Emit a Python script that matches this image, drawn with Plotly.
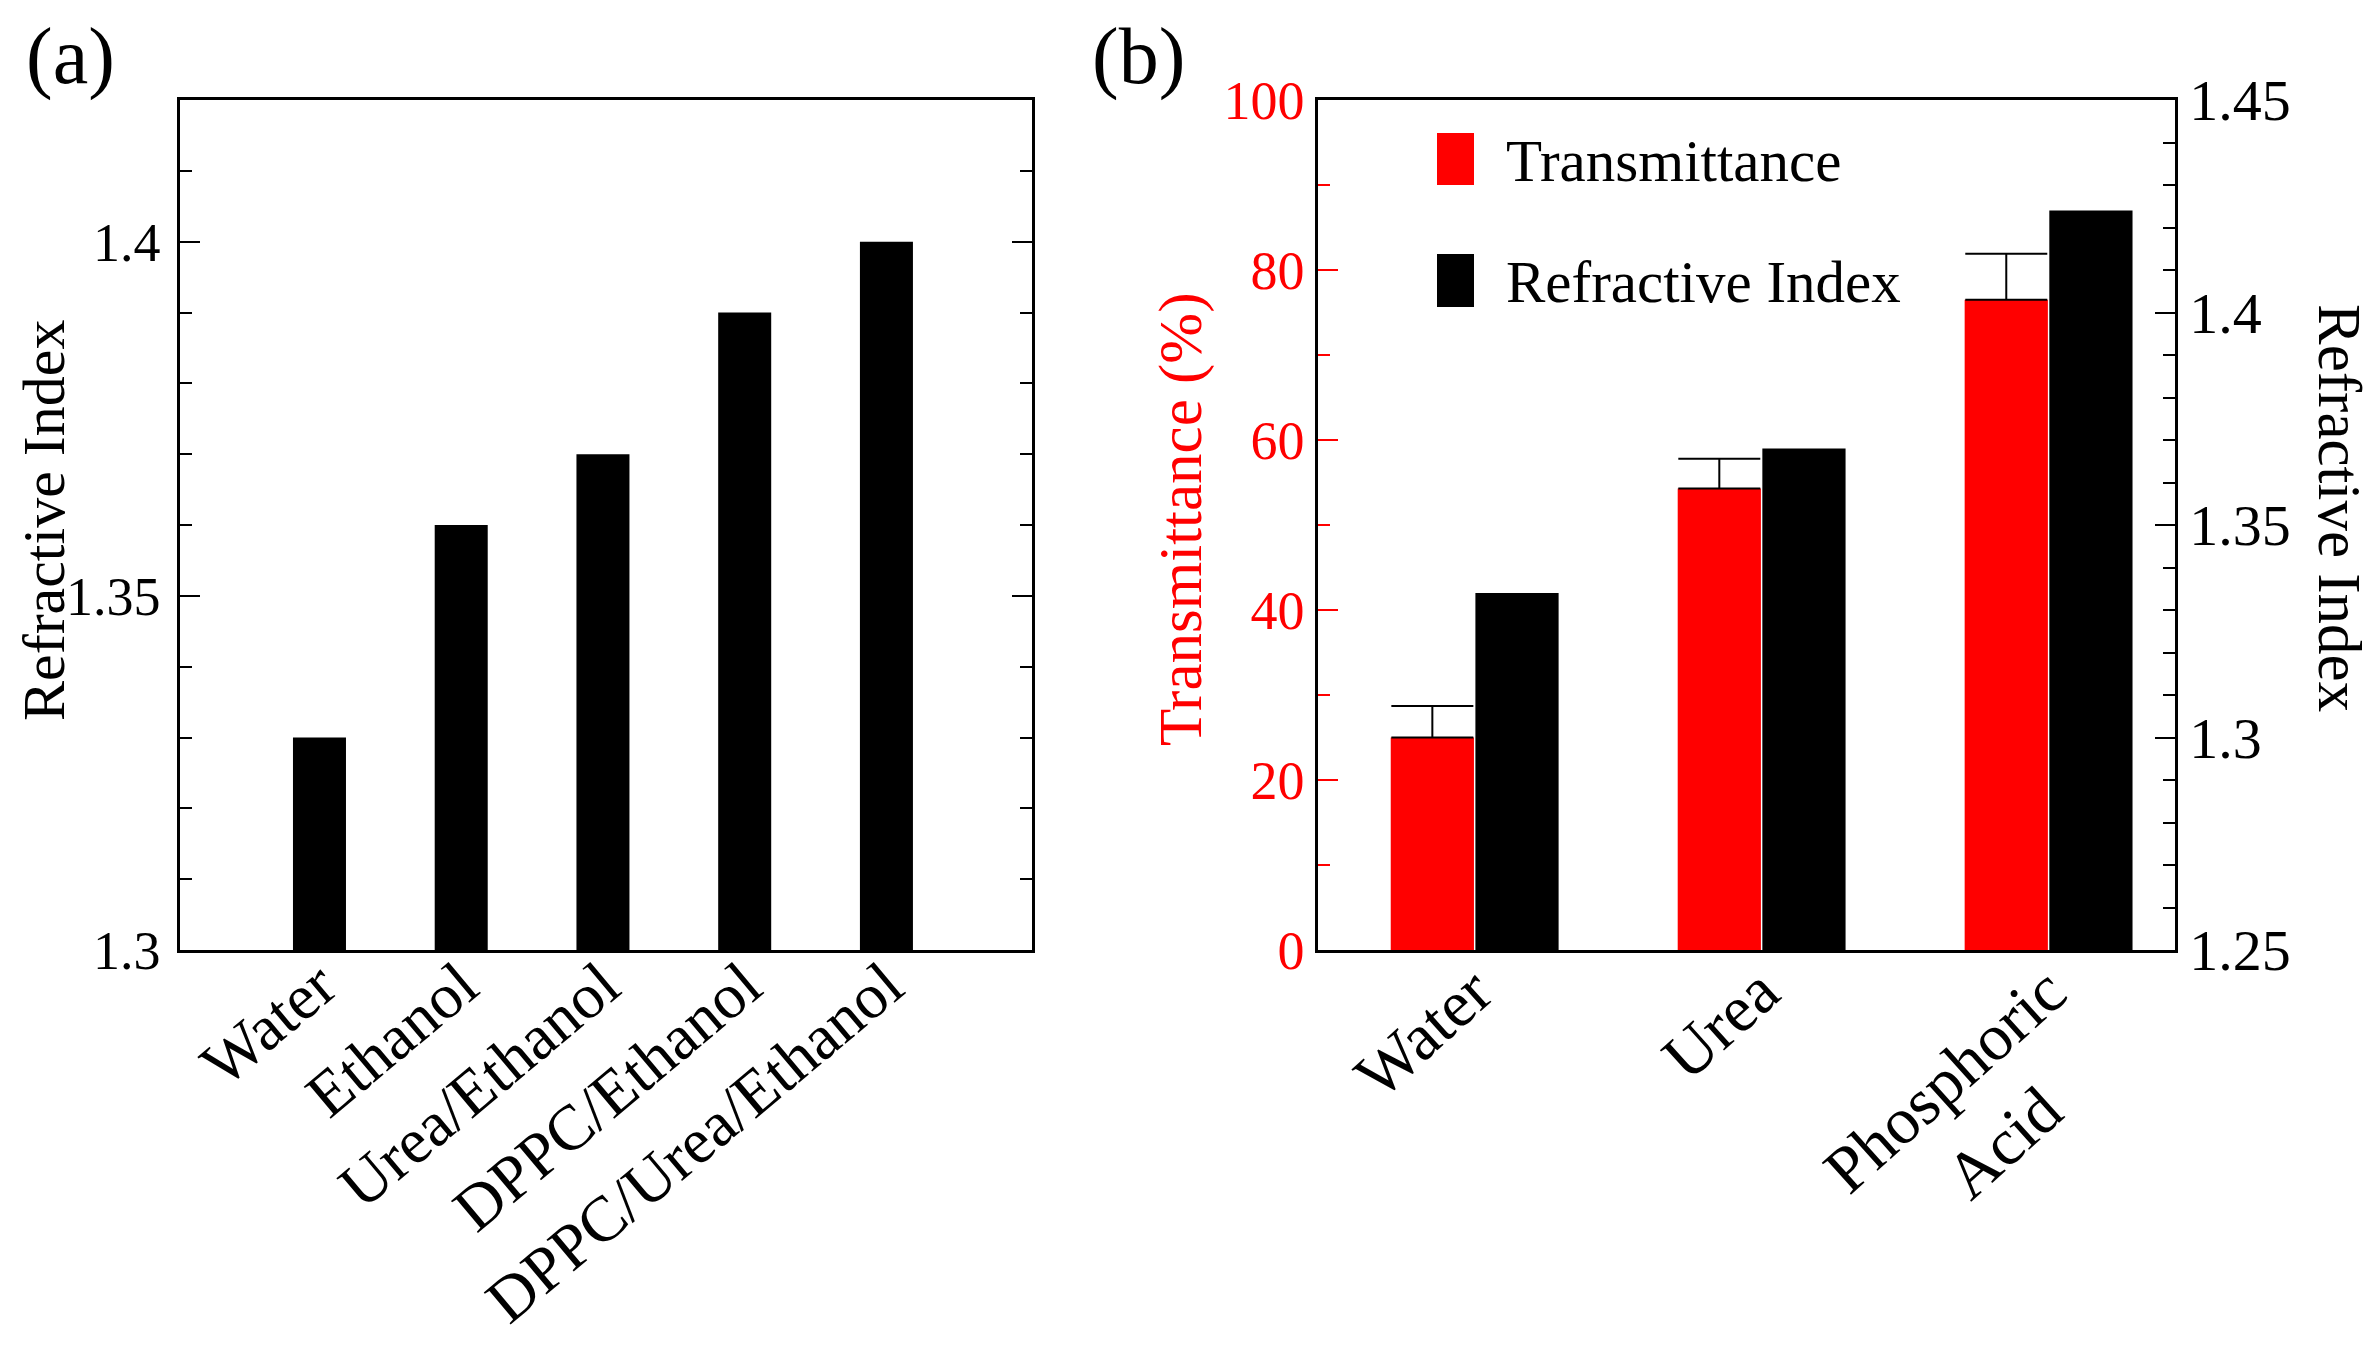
import plotly.graph_objects as go

# ---------------- data ----------------
cats_a = ["Water", "Ethanol", "Urea/Ethanol", "DPPC/Ethanol", "DPPC/Urea/Ethanol"]
ri_a = [1.33, 1.36, 1.37, 1.39, 1.40]

cats_b = ["Water", "Urea", "Phosphoric<br>Acid\u00a0\u00a0\u00a0\u00a0\u00a0"]
trans_b = [25.0, 54.3, 76.5]
trans_err = [3.7, 3.5, 5.4]
ri_b = [1.334, 1.368, 1.424]

ticks_a = [1.3, 1.35, 1.4]
ticks_b_left = [0, 20, 40, 60, 80, 100]
ticks_b_right = [1.25, 1.3, 1.35, 1.4, 1.45]

W, H = 2375, 1363
OFF = 8  # page body offset in px
FONT = "Liberation Serif, Times New Roman, serif"
RED = "#FF0000"


def px(x):
    return (x - OFF) / W


def py(y):
    return 1 - (y - OFF) / H


fig = go.Figure()

# panel (a)
fig.add_trace(go.Bar(x=cats_a, y=ri_a, xaxis="x", yaxis="y",
                     marker=dict(color="black", line=dict(width=0)),
                     width=0.374, showlegend=False))

# panel (b)
fig.add_trace(go.Bar(x=cats_b, y=trans_b, xaxis="x2", yaxis="y2",
                     marker=dict(color=RED, line=dict(width=0)),
                     width=0.29, offset=-0.29, showlegend=False,
                     error_y=dict(type="data", array=trans_err,
                                  arrayminus=[0] * len(trans_err), symmetric=False,
                                  color="black", thickness=2, width=41)))
fig.add_trace(go.Bar(x=cats_b, y=ri_b, xaxis="x2", yaxis="y3",
                     marker=dict(color="black", line=dict(width=0)),
                     width=0.29, offset=0.005, showlegend=False))

catfont = dict(family=FONT, size=64, color="black")

axis_common = dict(showline=True, linecolor="black", linewidth=2.5,
                   showgrid=False, zeroline=False, automargin=False)

fig.update_layout(
    width=W, height=H,
    margin=dict(l=0, r=0, t=0, b=0, autoexpand=False),
    paper_bgcolor="white", plot_bgcolor="white",
    font=dict(family=FONT, size=56, color="black"),
    barmode="overlay",
    xaxis=dict(domain=[px(180), px(1032)], anchor="y", type="category",
               range=[-0.984, 5.027], mirror=True, ticks="",
               tickangle=-40, tickfont=catfont, ticklabelstandoff=-30,
               **axis_common),
    yaxis=dict(domain=[py(950), py(100)], anchor="x",
               range=[1.3, 1.42], mirror="ticks",
               ticks="inside", ticklen=20, tickwidth=2, tickcolor="black",
               tickvals=ticks_a, ticktext=[f"{v:g}" for v in ticks_a],
               minor=dict(dtick=0.01, tick0=1.3, ticks="inside", ticklen=12,
                          tickwidth=2, tickcolor="black"),
               tickfont=dict(family=FONT, size=54, color="black"),
               ticklabelstandoff=6,
               **axis_common),
    xaxis2=dict(domain=[px(1318), px(2175)], anchor="y2", type="category",
                range=[-0.5435, 2.443], mirror=True, ticks="",
                tickangle=-42, tickfont=dict(family=FONT, size=66, color="black"),
                ticklabelstandoff=-26,
                **axis_common),
    yaxis2=dict(domain=[py(950), py(100)], anchor="x2",
                range=[0, 100],
                ticks="inside", ticklen=20, tickwidth=2, tickcolor=RED,
                tickvals=ticks_b_left, ticktext=[str(v) for v in ticks_b_left],
                minor=dict(dtick=10, tick0=0, ticks="inside", ticklen=12,
                           tickwidth=2, tickcolor=RED),
                tickfont=dict(family=FONT, size=54, color=RED),
                ticklabelstandoff=0,
                **axis_common),
    yaxis3=dict(overlaying="y2", side="right", anchor="x2",
                range=[1.25, 1.45],
                ticks="inside", ticklen=20, tickwidth=2, tickcolor="black",
                tickvals=ticks_b_right, ticktext=[f"{v:g}" for v in ticks_b_right],
                minor=dict(dtick=0.01, tick0=1.25, ticks="inside", ticklen=12,
                           tickwidth=2, tickcolor="black"),
                tickfont=dict(family=FONT, size=58, color="black"),
                ticklabelstandoff=0,
                **axis_common),
)

# axis titles, panel labels and legend text
ann = [
    dict(text="Refractive Index", x=px(44), y=py(521), textangle=-90,
         font=dict(family=FONT, size=60, color="black")),
    dict(text="Transmittance (%)", x=px(1181), y=py(520), textangle=-90,
         font=dict(family=FONT, size=61, color=RED)),
    dict(text="Refractive Index", x=px(2340), y=py(508), textangle=90,
         font=dict(family=FONT, size=61, color="black")),
    dict(text="(a)", x=px(71), y=py(56), font=dict(family=FONT, size=80, color="black")),
    dict(text="(b)", x=px(1138), y=py(56), font=dict(family=FONT, size=80, color="black")),
    dict(text="Transmittance", x=px(1504), y=py(161), xanchor="left",
         font=dict(family=FONT, size=59, color="black")),
    dict(text="Refractive Index", x=px(1504), y=py(282), xanchor="left",
         font=dict(family=FONT, size=59, color="black")),
]
for a in ann:
    a.setdefault("xanchor", "center")
    a.update(xref="paper", yref="paper", yanchor="middle", showarrow=False)
    fig.add_annotation(**a)

# legend swatches
fig.add_shape(type="rect", xref="paper", yref="paper",
              x0=px(1437), x1=px(1474), y0=py(185), y1=py(133),
              fillcolor=RED, line=dict(width=0))
fig.add_shape(type="rect", xref="paper", yref="paper",
              x0=px(1437), x1=px(1474), y0=py(307), y1=py(254),
              fillcolor="black", line=dict(width=0))

fig.write_html("out.html")
